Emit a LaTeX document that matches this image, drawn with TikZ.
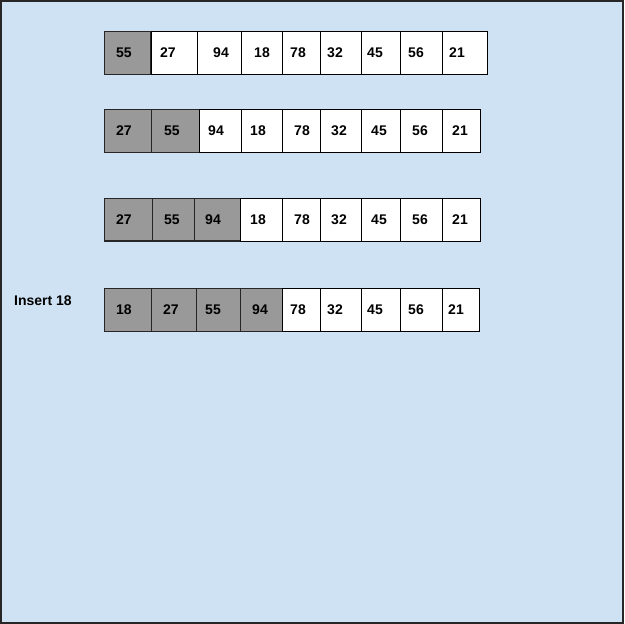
\documentclass[tikz,border=0pt]{standalone}
\usepackage{fontspec}
\setmainfont{Liberation Sans}
\usepackage{tikz}
\usetikzlibrary{positioning}
\definecolor{paleblue}{HTML}{CFE2F3}
\definecolor{sortedgray}{HTML}{999999}
\tikzset{
  cell/.style={draw=black,line width=0.9pt,fill=white},
  donecell/.style={draw=black!85,line width=1.3pt,fill=sortedgray},
  num/.style={font=\bfseries\fontsize{14}{16}\selectfont,inner sep=0pt}
}
\begin{document}
\begin{tikzpicture}[x=1pt,y=-1pt]
%background sheet and frame
\useasboundingbox (0,0) rectangle (624,624);
\draw[fill=paleblue,draw=black!85,line width=1.6pt] (0.8,0.8) rectangle (623.2,623.2);
%first row: only 55 sorted
\foreach \x/\xx/\t/\v/\s [count=\i] in {104.3/151/124/55/donecell,151/197.3/168/27/cell,197.3/241/221/94/cell,
  241/282.7/262/18/cell,282.7/320.7/298/78/cell,320.7/361.3/335/32/cell,361.3/400.7/375/45/cell,
  400.7/442.3/416/56/cell,442.3/487.3/457/21/cell}
{ \draw[\s] (\x,31.5) rectangle (\xx,74.3); \node[num] (ra\i) at (\t,53) {\v}; }
%second row: 27 55 sorted
\foreach \x/\xx/\t/\v/\s [count=\i] in {104.3/151.7/124/27/donecell,151.7/199.3/172/55/donecell,199.3/241/216/94/cell,
  241/282.7/258/18/cell,282.7/320.7/302/78/cell,320.7/361.3/339/32/cell,361.3/400.7/379/45/cell,
  400.7/442.3/420/56/cell,442.3/480/460/21/cell}
{ \draw[\s] (\x,109.3) rectangle (\xx,152.3); \node[num] (rb\i) at (\t,131) {\v}; }
%third row: 27 55 94 sorted
\foreach \x/\xx/\t/\v/\s [count=\i] in {104.3/152.3/124/27/donecell,152.3/194.3/172/55/donecell,194.3/240.7/213/94/donecell,
  240.7/282.7/258/18/cell,282.7/320.7/302/78/cell,320.7/361.3/339/32/cell,361.3/400.7/379/45/cell,
  400.7/442.3/420/56/cell,442.3/480/460/21/cell}
{ \draw[\s] (\x,198.3) rectangle (\xx,241); \node[num] (rc\i) at (\t,220) {\v}; }
%fourth row: 18 inserted
\foreach \x/\xx/\t/\v/\s [count=\i] in {104.3/151.7/124/18/donecell,151.7/196.7/171/27/donecell,196.7/240.7/213/55/donecell,
  240.7/282.3/260/94/donecell,282.3/320/298/78/cell,320/361.7/335/32/cell,361.7/400/375/45/cell,
  400/442.3/416/56/cell,442.3/479.3/456/21/cell}
{ \draw[\s] (\x,288.3) rectangle (\xx,331.5); \node[num] (rd\i) at (\t,310) {\v}; }
\node[num] (insert) at (43,301) {Insert 18};
\end{tikzpicture}
\end{document}
